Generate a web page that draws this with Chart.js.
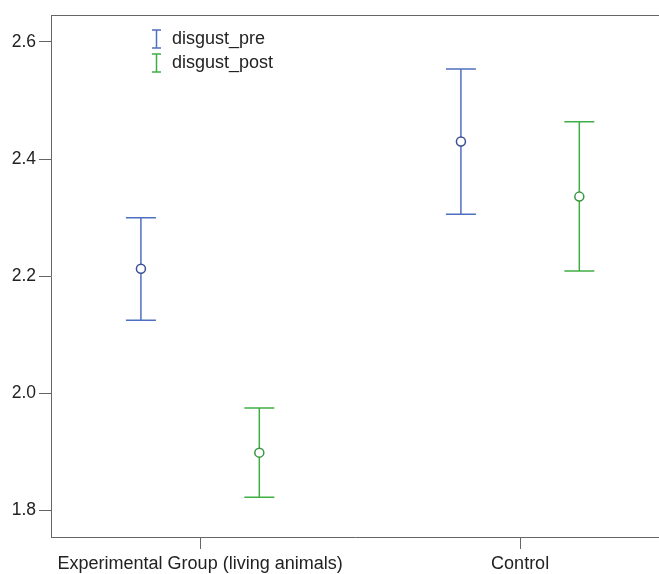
<!DOCTYPE html>
<html>
<head>
<meta charset="utf-8">
<script src="https://cdn.jsdelivr.net/npm/chart.js@4/dist/chart.umd.min.js"></script>
<style>
  html, body { margin: 0; padding: 0; background: #fff; }
  #wrap { width: 659px; height: 574px; position: relative; }
</style>
</head>
<body>
<div id="wrap"><canvas id="chart"></canvas></div>
<script>
// group means with 95% CI bounds
const groups = ["Experimental Group (living animals)", "Control"];
const groupPos = [1, 2];
const seriesNames = ["disgust_pre", "disgust_post"];
const preMean = [2.213, 2.430];
const preLow = [2.125, 2.306];
const preHigh = [2.300, 2.554];
const postMean = [1.899, 2.336];
const postLow = [1.823, 2.209];
const postHigh = [1.975, 2.464];
const yTicks = [1.8, 2.0, 2.2, 2.4, 2.6];

const OFFSET = 0.185;
const BLUE = "#4f70c0";
const BLUE_DARK = "#3b4f96";
const GREEN = "#3fae44";
const GREEN_DARK = "#3a9640";
const AXIS = "#666";
const FONT = "'Liberation Sans', Arial, sans-serif";

const series = [
  { name: seriesNames[0], mean: preMean, low: preLow, high: preHigh, dx: -OFFSET, color: BLUE, dark: BLUE_DARK },
  { name: seriesNames[1], mean: postMean, low: postLow, high: postHigh, dx: OFFSET, color: GREEN, dark: GREEN_DARK },
];

const whiskers = {
  id: "whiskers",
  beforeDatasetsDraw(chart) {
    const { ctx, scales: { x, y } } = chart;
    ctx.save();
    ctx.lineWidth = 1.5;
    for (const s of series) {
      ctx.strokeStyle = s.color;
      groupPos.forEach((g, i) => {
        const px = x.getPixelForValue(g + s.dx);
        const top = y.getPixelForValue(s.high[i]);
        const bot = y.getPixelForValue(s.low[i]);
        ctx.beginPath();
        ctx.moveTo(px, top); ctx.lineTo(px, bot);
        ctx.moveTo(px - 15, top); ctx.lineTo(px + 15, top);
        ctx.moveTo(px - 15, bot); ctx.lineTo(px + 15, bot);
        ctx.stroke();
      });
    }
    ctx.restore();
  },
  afterDraw(chart) {
    const { ctx, chartArea } = chart;
    ctx.save();
    // top frame line
    ctx.strokeStyle = AXIS;
    ctx.lineWidth = 1;
    ctx.beginPath();
    ctx.moveTo(chartArea.left, chartArea.top + 0.5);
    ctx.lineTo(chartArea.right, chartArea.top + 0.5);
    ctx.stroke();
    // legend with I-beam icons
    const lx = 156.5;
    const rows = [39, 63];
    series.forEach((s, i) => {
      const cy = rows[i];
      ctx.strokeStyle = s.color;
      ctx.lineWidth = 1.5;
      ctx.beginPath();
      ctx.moveTo(lx, cy - 9); ctx.lineTo(lx, cy + 9);
      ctx.moveTo(lx - 4.5, cy - 9); ctx.lineTo(lx + 4.5, cy - 9);
      ctx.moveTo(lx - 4.5, cy + 9); ctx.lineTo(lx + 4.5, cy + 9);
      ctx.stroke();
      ctx.fillStyle = "#222";
      ctx.font = "18px " + FONT;
      ctx.textBaseline = "middle";
      ctx.textAlign = "left";
      ctx.fillText(s.name, 172, cy);
    });
    ctx.restore();
  }
};

new Chart(document.getElementById("chart"), {
  type: "scatter",
  data: {
    datasets: series.map(s => ({
      label: s.name,
      data: groupPos.map((g, i) => ({ x: g + s.dx, y: s.mean[i] })),
      pointRadius: 4.5,
      pointBorderWidth: 1.5,
      pointBorderColor: s.dark,
      pointBackgroundColor: "#fff",
      showLine: false,
    })),
  },
  options: {
    responsive: true,
    maintainAspectRatio: false,
    animation: false,
    layout: { autoPadding: false, padding: { top: 15, right: 0, left: 0, bottom: 0 } },
    plugins: { legend: { display: false }, tooltip: { enabled: false } },
    scales: {
      x: {
        type: "linear",
        min: 0.534,
        max: 2.434,
        afterBuildTicks: (scale) => { scale.ticks = groupPos.map(v => ({ value: v })); },
        afterFit: (scale) => { scale.height = 37; scale.paddingLeft = 0; scale.paddingRight = 0; },
        ticks: {
          autoSkip: false,
          maxRotation: 0,
          padding: 4,
          color: "#222",
          font: { family: FONT, size: 18 },
          callback: (v) => groups[groupPos.indexOf(v)] ?? "",
        },
        grid: { drawOnChartArea: false, tickLength: 12, tickColor: AXIS },
        border: { color: AXIS, width: 1 },
      },
      y: {
        min: 1.755,
        max: 2.646,
        afterBuildTicks: (scale) => { scale.ticks = yTicks.map(v => ({ value: v })); },
        afterFit: (scale) => { scale.width = 51; scale.paddingTop = 0; scale.paddingBottom = 0; },
        ticks: {
          padding: 3,
          color: "#222",
          font: { family: FONT, size: 17.5 },
          callback: (v) => v.toFixed(1),
        },
        grid: { drawOnChartArea: false, tickLength: 12, tickColor: AXIS },
        border: { color: AXIS, width: 1 },
      },
    },
  },
  plugins: [whiskers],
});
</script>
</body>
</html>
